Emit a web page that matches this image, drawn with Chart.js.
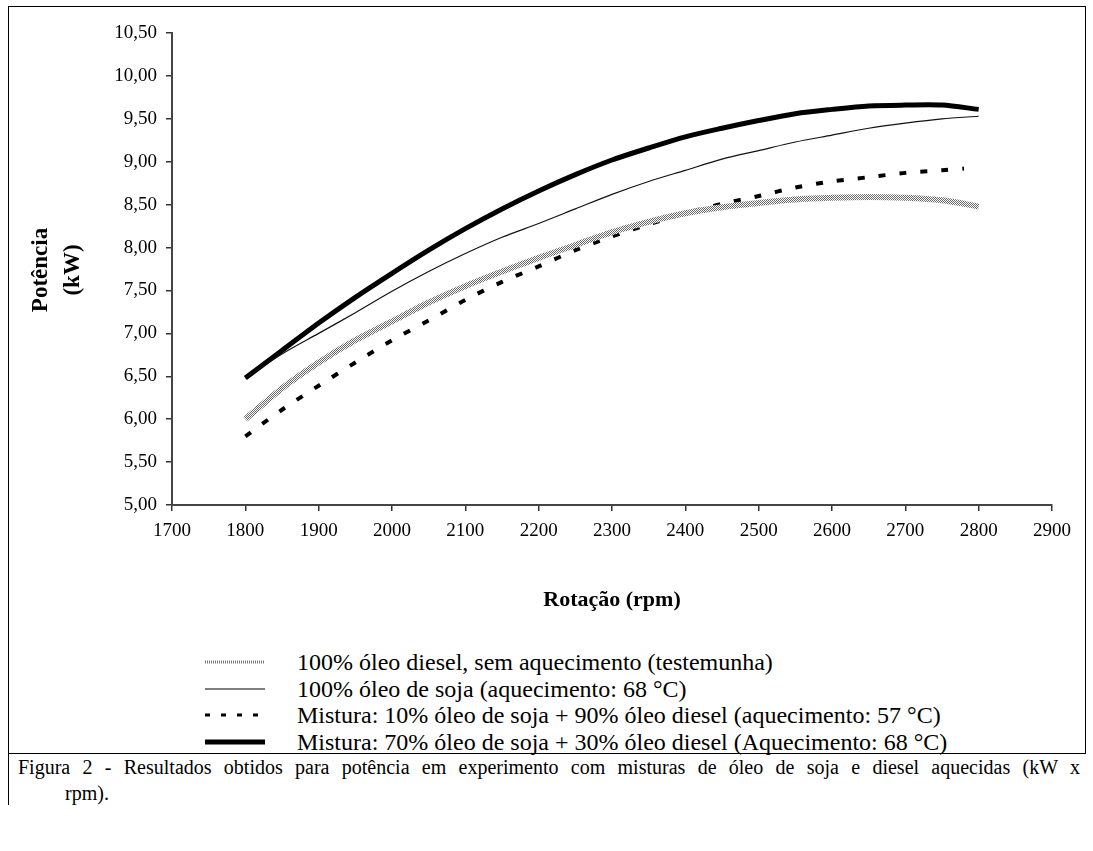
<!DOCTYPE html>
<html>
<head>
<meta charset="utf-8">
<script src="https://cdn.jsdelivr.net/npm/chart.js@4.4.0/dist/chart.umd.min.js"></script>
<style>
html,body{margin:0;padding:0;background:#fff;}
body{width:1093px;height:851px;position:relative;overflow:hidden;color:#000;}
body, body div, body span{font-family:"Liberation Serif","Times New Roman",Times,serif;}
#wrap{position:absolute;left:0;top:0;width:1093px;height:640px;}
#frame{position:absolute;left:8px;top:6px;width:1078px;height:748px;border:1px solid #000;box-sizing:border-box;}
#leftext{position:absolute;left:8px;top:753px;width:1px;height:52px;background:#000;}
#ytitle{position:absolute;left:-44px;top:238px;width:200px;height:64px;line-height:32px;text-align:center;font-weight:bold;font-size:23px;transform:rotate(-90deg);white-space:nowrap;}
#xtitle{position:absolute;left:412px;top:585px;width:400px;text-align:center;font-weight:bold;font-size:22px;line-height:28px;}
.lrow{position:absolute;left:0;height:26px;width:1093px;}
.lrow svg{position:absolute;left:205px;top:8px;}
.lrow span{position:absolute;left:297px;top:0;font-size:24px;line-height:26px;white-space:nowrap;}
#cap1{position:absolute;left:18px;top:755px;width:1062px;font-size:20px;line-height:24px;text-align:justify;text-align-last:justify;white-space:nowrap;}
#cap2{position:absolute;left:65px;top:781px;font-size:20px;line-height:24px;}
</style>
</head>
<body>
<div id="frame"></div>
<div id="leftext"></div>
<div id="wrap"><canvas id="c" width="1093" height="640"></canvas></div>
<div id="ytitle">Potência<br>(kW)</div>
<div id="xtitle">Rotação (rpm)</div>
<div id="legend"></div>
<div id="cap1">Figura 2 - Resultados obtidos para potência em experimento com misturas de óleo de soja e diesel aquecidas (kW x</div>
<div id="cap2">rpm).</div>
<script>
// ---- data ----
const rpm = [1800,1850,1900,1950,2000,2050,2100,2150,2200,2250,2300,2350,2400,2450,2500,2550,2600,2650,2700,2750,2800];
const diesel100 = [6.00,6.36,6.66,6.92,7.14,7.36,7.55,7.72,7.88,8.03,8.18,8.30,8.40,8.47,8.52,8.56,8.58,8.59,8.58,8.55,8.48];
const soja100   = [6.48,6.76,7.00,7.24,7.49,7.72,7.93,8.12,8.28,8.45,8.62,8.77,8.90,9.03,9.13,9.23,9.31,9.39,9.45,9.50,9.53];
const rpmMix10  = [1800,1850,1900,1950,2000,2050,2100,2150,2200,2250,2300,2350,2400,2450,2500,2550,2600,2650,2700,2750,2780];
const mix10     = [5.80,6.11,6.39,6.66,6.92,7.15,7.39,7.60,7.78,7.97,8.13,8.27,8.40,8.51,8.60,8.70,8.77,8.82,8.87,8.90,8.92];
const mix70     = [6.48,6.80,7.12,7.42,7.70,7.97,8.22,8.45,8.66,8.85,9.02,9.16,9.29,9.39,9.48,9.56,9.61,9.65,9.66,9.66,9.61];
const seriesLabels = [
  "100% óleo diesel, sem aquecimento (testemunha)",
  "100% óleo de soja (aquecimento: 68 °C)",
  "Mistura: 10% óleo de soja + 90% óleo diesel (aquecimento: 57 °C)",
  "Mistura: 70% óleo de soja + 30% óleo diesel (Aquecimento: 68 °C)"
];
const xTickValues = [1700,1800,1900,2000,2100,2200,2300,2400,2500,2600,2700,2800,2900];
const yTickLabels = ["5,00","5,50","6,00","6,50","7,00","7,50","8,00","8,50","9,00","9,50","10,00","10,50"];

const pts = (xs, ys) => xs.map((x, i) => ({x: x, y: ys[i]}));

const ctx = document.getElementById('c').getContext('2d');
function stipple(){
  const p = document.createElement('canvas'); p.width = 2; p.height = 2;
  const g = p.getContext('2d');
  g.fillStyle = '#fff'; g.fillRect(0,0,2,2);
  g.fillStyle = '#6a6a6a'; g.fillRect(0,0,1,1); g.fillRect(1,1,1,1);
  return ctx.createPattern(p, 'repeat');
}

const fontTick = {family: '"Liberation Serif","Times New Roman",serif', size: 19};
new Chart(ctx, {
  type: 'line',
  data: {
    datasets: [
      {label: seriesLabels[0], data: pts(rpm, diesel100), borderColor: stipple(), borderWidth: 6, pointRadius: 0, tension: 0.3, fill: false},
      {label: seriesLabels[1], data: pts(rpm, soja100), borderColor: '#111', borderWidth: 1.2, pointRadius: 0, tension: 0.3, fill: false},
      {label: seriesLabels[2], data: pts(rpmMix10, mix10), borderColor: '#000', borderWidth: 4, borderDash: [7,14], pointRadius: 0, tension: 0.3, fill: false},
      {label: seriesLabels[3], data: pts(rpm, mix70), borderColor: '#000', borderWidth: 5, pointRadius: 0, tension: 0.3, fill: false}
    ]
  },
  options: {
    responsive: false,
    animation: false,
    devicePixelRatio: 1,
    layout: {padding: {left: 0, right: 41, top: 33, bottom: 0}},
    plugins: {legend: {display: false}, tooltip: {enabled: false}},
    scales: {
      x: {
        type: 'linear', min: 1700, max: 2900,
        afterBuildTicks: (s) => { s.ticks = xTickValues.map(v => ({value: v})); },
        afterFit: (s) => { s.height = 135; },
        ticks: {font: fontTick, color: '#000', padding: 9, maxRotation: 0, autoSkip: false, callback: (v) => String(v)},
        grid: {drawOnChartArea: false, drawTicks: true, tickLength: 6, color: '#333', lineWidth: 1.5},
        border: {display: true, color: '#444', width: 2}
      },
      y: {
        type: 'linear', min: 5, max: 10.5,
        afterBuildTicks: (s) => { s.ticks = yTickLabels.map((t, i) => ({value: 5 + i * 0.5})); },
        afterFit: (s) => { s.width = 172; },
        ticks: {font: fontTick, color: '#000', padding: 9, autoSkip: false,
                callback: (v, i) => yTickLabels[i]},
        grid: {drawOnChartArea: false, drawTicks: true, tickLength: 6, color: '#333', lineWidth: 1.5},
        border: {display: true, color: '#444', width: 2}
      }
    }
  }
});

// ---- legend (HTML) ----
const legendRows = [649, 676, 702, 729];
const samples = [
  '<line x1="0" y1="5" x2="60" y2="5" stroke="#777" stroke-width="3" stroke-dasharray="1 1"/>',
  '<line x1="0" y1="5" x2="60" y2="5" stroke="#000" stroke-width="1"/>',
  '<line x1="0" y1="5" x2="62" y2="5" stroke="#000" stroke-width="3" stroke-dasharray="5 11"/>',
  '<line x1="0" y1="5" x2="60" y2="5" stroke="#000" stroke-width="5"/>'
];
const lg = document.getElementById('legend');
seriesLabels.forEach((t, i) => {
  const r = document.createElement('div');
  r.className = 'lrow';
  r.style.top = legendRows[i] + 'px';
  r.innerHTML = '<svg width="64" height="10">' + samples[i] + '</svg><span></span>';
  r.querySelector('span').textContent = t;
  lg.appendChild(r);
});
</script>
</body>
</html>
